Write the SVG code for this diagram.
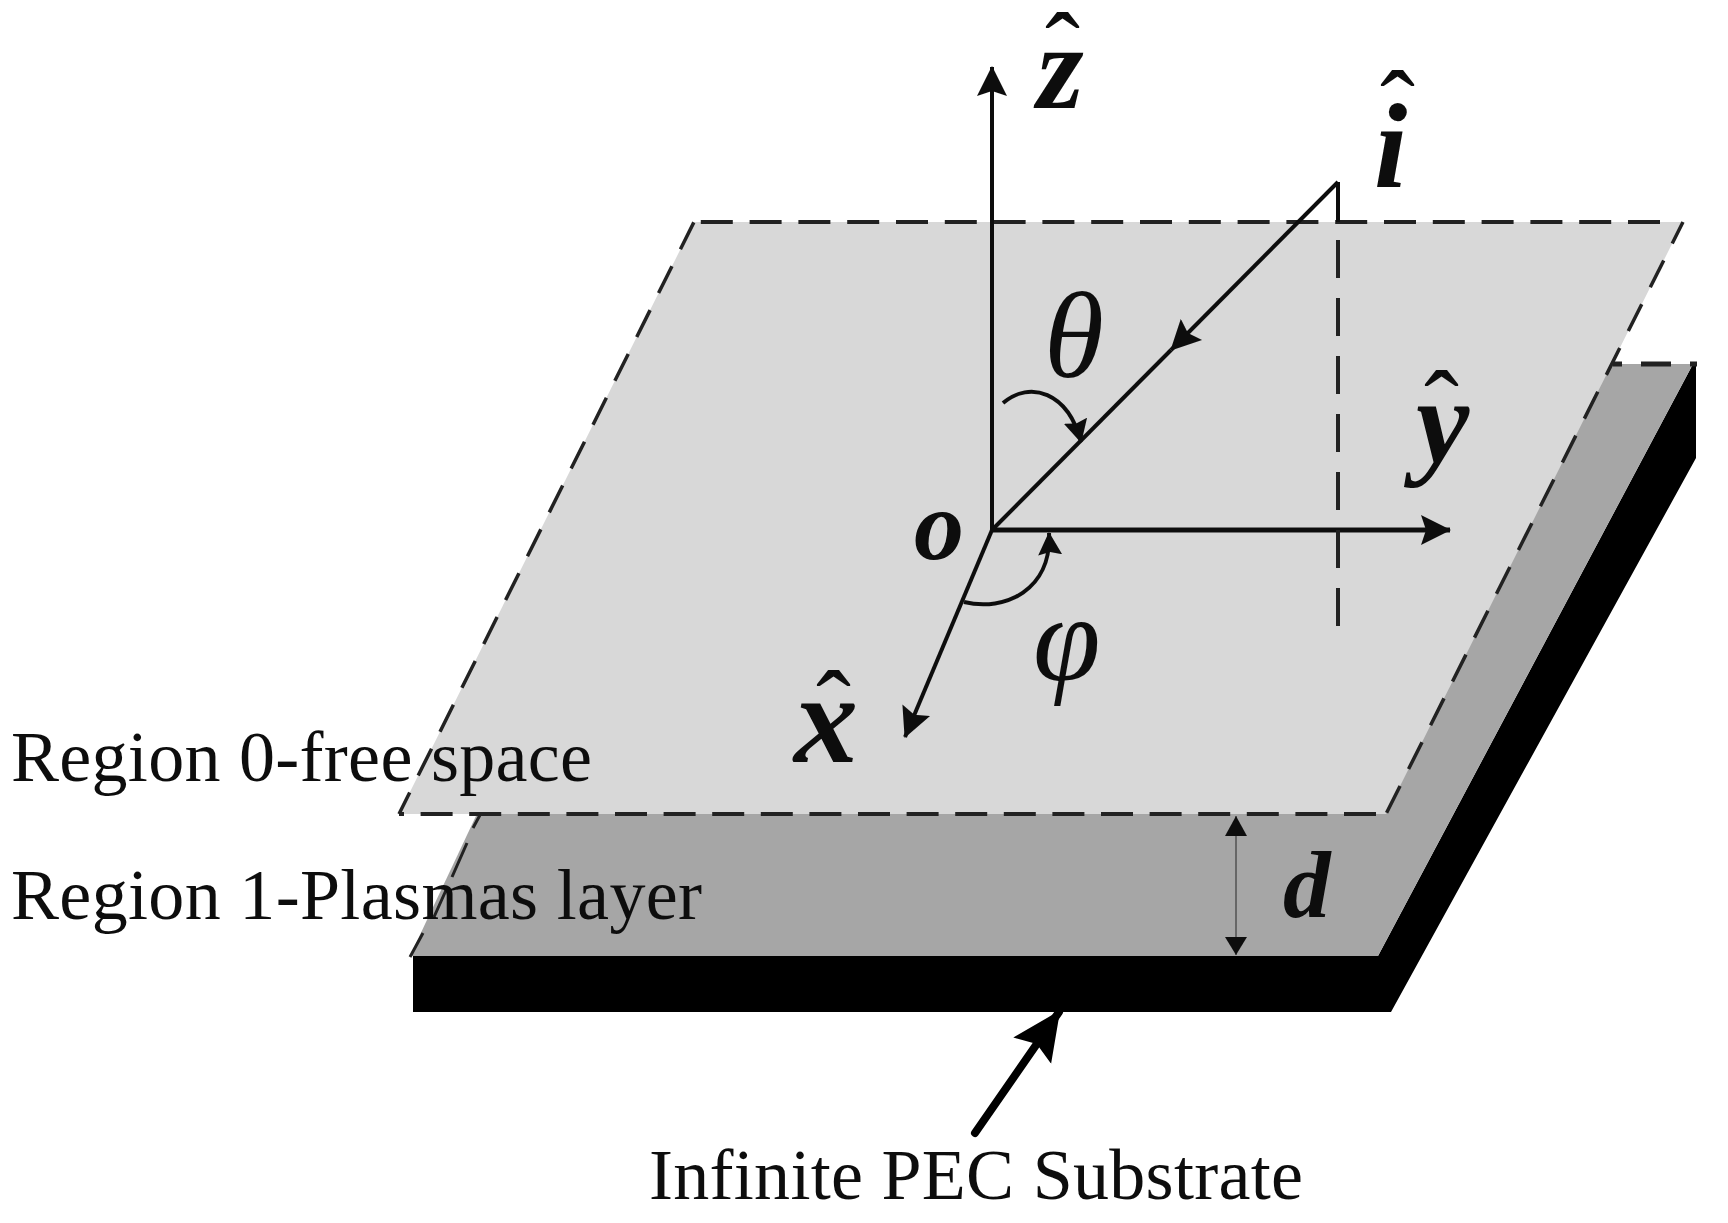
<svg xmlns="http://www.w3.org/2000/svg" width="1728" height="1223" viewBox="0 0 1728 1223">
<style>
.lbl{font-family:"Liberation Serif","Times New Roman",serif;font-size:72px;fill:#111}
.vec{font-family:"Liberation Serif","Times New Roman",serif;font-weight:bold;font-style:italic;fill:#0a0a0a}
.hat{font-family:"Liberation Serif","Times New Roman",serif;font-weight:normal;font-style:normal;font-size:105px;fill:#111}
.ang{font-family:"Liberation Serif","Times New Roman",serif;font-style:italic;font-size:122px;fill:#111}
.ax{fill:none;stroke:#111;stroke-width:4}
.dash{fill:none;stroke:#222;stroke-width:4}
</style>
<defs>
<filter id="soft" x="0" y="0" width="100%" height="100%"><feGaussianBlur stdDeviation="0.7"/></filter>
<marker id="head" markerUnits="userSpaceOnUse" markerWidth="32" markerHeight="32" refX="29" refY="16" orient="auto"><path d="M30,16 L0,1 L5,16 L0,31 Z" fill="#111"/></marker>
<marker id="small" markerUnits="userSpaceOnUse" markerWidth="24" markerHeight="26" refX="22" refY="13" orient="auto"><path d="M23,13 L0,1 L3,13 L0,25 Z" fill="#111"/></marker>
<marker id="thick" markerUnits="userSpaceOnUse" markerWidth="50" markerHeight="50" refX="47" refY="25" orient="auto"><path d="M49,25 L0,2 L8,25 L0,48 Z" fill="#000"/></marker>
</defs>
<rect width="1728" height="1223" fill="#fff"/>
<g filter="url(#soft)">
<g id="substrate">
<polygon points="413,956 1378,956 1693,364 1696,364 1696,458 1391,1012 413,1012" fill="#000"/>
</g>
<g id="plasma-layer">
<polygon points="410,956 1378,956 1693,364 689,364" fill="#a6a6a6"/>
<path class="dash" d="M1613,364H1622M1641,364H1671M1690,364H1697" style="stroke-width:5"/>
<path class="dash" d="M480,815L473,828M467,843L452,877M447,888L434,917M423,933L410,957" style="stroke-width:3"/>
</g>
<g id="free-space-plane">
<polygon points="694,222 1683,222 1386,814 399,814" fill="#d8d8d8"/>
<path class="dash" d="M1660,222H694" stroke-dasharray="32 16.8"/>
<path class="dash" d="M1376,814H399" stroke-dasharray="32 16.6"/>
<path class="dash" d="M1683,222L1386,814" stroke-dasharray="30 19" stroke-dashoffset="6" style="stroke-width:3.5"/>
<path class="dash" d="M399,814L694,222" stroke-dasharray="30 19" stroke-dashoffset="6" style="stroke-width:3.5"/>
</g>
<g id="connectors">
<line class="ax" x1="992" y1="530" x2="992" y2="67" marker-end="url(#head)"/>
<line class="ax" x1="992" y1="530" x2="1450" y2="530" marker-end="url(#head)" style="stroke-width:5"/>
<line class="ax" x1="992" y1="530" x2="905" y2="737" marker-end="url(#head)"/>
<line class="ax" x1="1338" y1="182" x2="1171" y2="350" marker-end="url(#head)"/>
<line class="ax" x1="1171" y1="350" x2="992" y2="530"/>
<line class="ax" x1="1338" y1="182" x2="1338" y2="222"/>
<line class="dash" x1="1338" y1="240" x2="1338" y2="627" stroke-dasharray="38 20"/>
<path class="ax" d="M1003,403C1030,380 1068,392 1081,442" marker-end="url(#small)"/>
<path class="ax" d="M964,602C1005,612 1052,590 1049,533" marker-end="url(#small)"/>
<path d="M1236,816V955" fill="none" stroke="#666" stroke-width="2"/>
<polygon points="1236,816 1225,836 1247,836" fill="#111"/>
<polygon points="1236,955 1225,937 1247,937" fill="#111"/>
<line x1="975" y1="1133" x2="1059" y2="1012" stroke="#000" stroke-width="8" stroke-linecap="round" marker-end="url(#thick)"/>
</g>
<g id="labels">
<text class="lbl" x="11" y="781" textLength="581">Region 0-free space</text>
<text class="lbl" x="11" y="919" textLength="691">Region 1-Plasmas layer</text>
<text class="lbl" x="649" y="1199" textLength="654">Infinite PEC Substrate</text>
</g>
<g id="axis-labels">
<text class="vec" font-size="120"><tspan class="hat" x="1045" y="86">ˆ</tspan><tspan x="1037" y="108">z</tspan></text>
<text class="vec" font-size="120"><tspan class="hat" x="1380" y="144">ˆ</tspan><tspan x="1374" y="187">i</tspan></text>
<text class="vec" font-size="120"><tspan class="hat" x="1424" y="444">ˆ</tspan><tspan x="1416" y="462">y</tspan></text>
<text class="vec" font-size="128"><tspan class="hat" x="816" y="744">ˆ</tspan><tspan x="794" y="762">x</tspan></text>
<text class="vec" font-size="100" x="914" y="559">o</text>
<text class="vec" font-size="95" x="1283" y="917">d</text>
<text class="ang" x="1044" y="377">θ</text>
<text class="ang" x="1033" y="680">φ</text>
</g>
</g>
</svg>
